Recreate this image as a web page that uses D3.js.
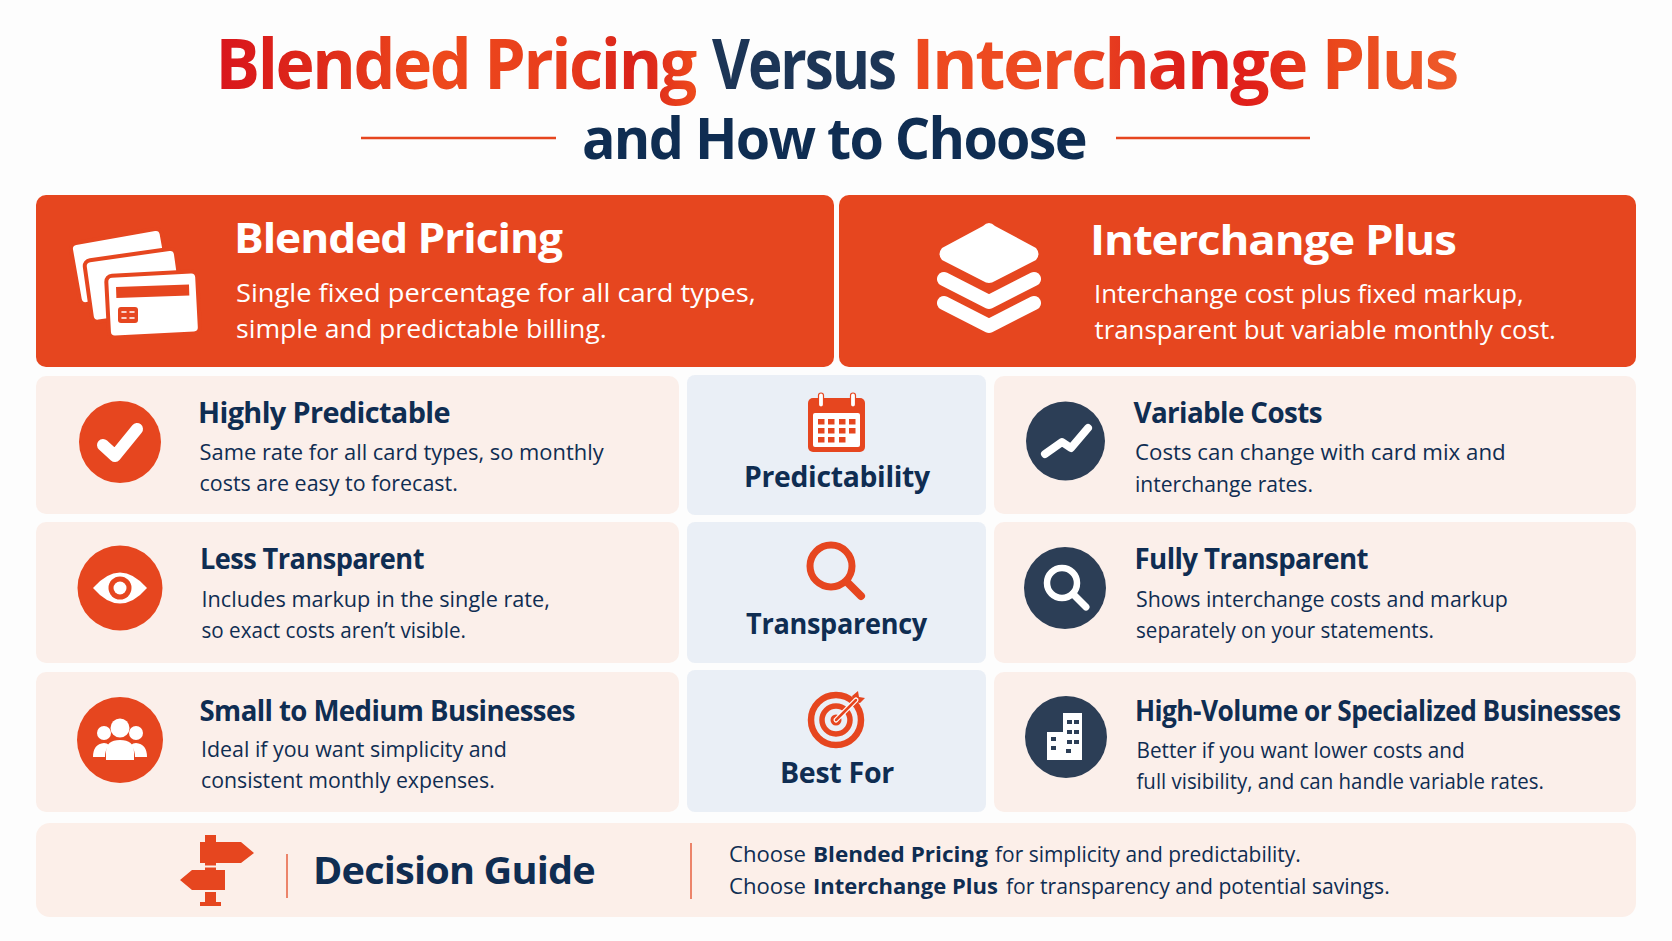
<!DOCTYPE html>
<html>
<head>
<meta charset="utf-8">
<script src="https://cdnjs.cloudflare.com/ajax/libs/d3/7.8.5/d3.min.js"></script>
<style>
html, body { margin: 0; padding: 0; background: #fdfdfd; }
svg { display: block; }
text { font-family: "Open Sans", "Noto Sans", sans-serif; }
</style>
</head>
<body>
<svg id="canvas" width="1672" height="941"></svg>
<script>
// text of the picture
var titleWords = ['Blended Pricing', 'Versus', 'Interchange Plus'],
  subtitle = 'and How to Choose',
  panelTitles = ['Blended Pricing', 'Interchange Plus'],
  panelLines = [
    ['Single fixed percentage for all card types,', 'simple and predictable billing.'],
    ['Interchange cost plus fixed markup,', 'transparent but variable monthly cost.']
  ],
  criteria = ['Predictability', 'Transparency', 'Best For'],
  leftHeads = ['Highly Predictable', 'Less Transparent', 'Small to Medium Businesses'],
  leftLines = [
    ['Same rate for all card types, so monthly', 'costs are easy to forecast.'],
    ['Includes markup in the single rate,', 'so exact costs aren\u2019t visible.'],
    ['Ideal if you want simplicity and', 'consistent monthly expenses.']
  ],
  rightHeads = ['Variable Costs', 'Fully Transparent', 'High-Volume or Specialized Businesses'],
  rightLines = [
    ['Costs can change with card mix and', 'interchange rates.'],
    ['Shows interchange costs and markup', 'separately on your statements.'],
    ['Better if you want lower costs and', 'full visibility, and can handle variable rates.']
  ],
  guideTitle = 'Decision Guide',
  guideLines = [
    ['Choose', 'Blended Pricing', 'for simplicity and predictability.'],
    ['Choose', 'Interchange Plus', 'for transparency and potential savings.']
  ];

var orange = '#e6461f', navy = '#0f2d52', slate = '#2c3e56',
  blush = '#fbefea', ice = '#eaeff6';

var svg = d3.select('#canvas');
var defs = svg.append('defs');

function gradient(id, x1, x2, stops) {
  var g = defs.append('linearGradient').attr('id', id)
    .attr('gradientUnits', 'userSpaceOnUse')
    .attr('x1', x1).attr('x2', x2).attr('y1', 0).attr('y2', 0);
  stops.forEach(function(s) {
    g.append('stop').attr('offset', s[0]).attr('stop-color', s[1]);
  });
}
// gradients live in the text's own scaled space, so they run over the natural width
gradient('gLeft', 0, 1, [[0, '#d9151c'], [0.22, '#de2a1a'], [0.45, '#ee4a1c'], [0.72, '#e83d1c'], [0.88, '#d9211b'], [1, '#ee4a1c']]);
gradient('gRight', 0, 1, [[0, '#ee4a1f'], [0.3, '#ec4a22'], [0.5, '#dc1f1a'], [0.62, '#e01f1a'], [0.78, '#ea481c'], [1, '#ee5a2a']]);

// every string is squeezed between the ink ends
function put(parent, str, x, xEnd, y, size, weight, fill, spacing) {
  var t = parent.append('text')
    .attr('font-size', size)
    .attr('font-weight', weight)
    .attr('letter-spacing', spacing || 0)
    .attr('fill', fill)
    .text(str);
  var natural = t.node().getComputedTextLength();
  t.attr('transform', 'translate(' + x + ',' + y + ')scale(' + (xEnd - x) / natural + ',1)');
  return t;
}

function box(x, y, x2, y2, fill, r) {
  svg.append('rect').attr('x', x).attr('y', y)
    .attr('width', x2 - x).attr('height', y2 - y)
    .attr('rx', r).attr('fill', fill);
}

// title
function titleWord(str, x, xEnd, grad) {
  var t = put(svg, str, x, xEnd, 89, 70, 700, '#1c3556', -2.5);
  if (grad) {
    var natural = t.node().getComputedTextLength();
    d3.select('#' + grad).attr('x2', natural);
    t.attr('fill', 'url(#' + grad + ')');
  }
}
titleWord(titleWords[0], 215.5, 695, 'gLeft');
titleWord(titleWords[1], 712, 895);
titleWord(titleWords[2], 911.5, 1457, 'gRight');
put(svg, subtitle, 582, 1086, 159, 58, 700, navy, -1.8);
svg.selectAll('line.rule').data([[361, 556], [1116, 1310]]).enter().append('line')
  .attr('class', 'rule')
  .attr('x1', function(d) { return d[0]; }).attr('x2', function(d) { return d[1]; })
  .attr('y1', 138).attr('y2', 138)
  .attr('stroke', orange).attr('stroke-width', 2.5);

// boxes
box(36, 195, 834, 367, orange, 10);
box(839, 195, 1636, 367, orange, 10);
var rowsOuter = [[376, 514], [522, 663], [672, 812]],
  rowsMiddle = [[375, 515], [522, 663], [670, 812]];
rowsOuter.forEach(function(r) {
  box(36, r[0], 679, r[1], blush, 10);
  box(994, r[0], 1636, r[1], blush, 10);
});
rowsMiddle.forEach(function(r) { box(687, r[0], 986, r[1], ice, 8); });
box(36, 823, 1636, 917, '#fcefe9', 14);

// panel text
put(svg, panelTitles[0], 234, 562, 253, 42, 700, '#fff', -1);
put(svg, panelLines[0][0], 236, 756, 302, 25, 400, '#fff');
put(svg, panelLines[0][1], 236, 607, 338, 25, 400, '#fff');
put(svg, panelTitles[1], 1090, 1456, 255, 42, 700, '#fff', -1);
put(svg, panelLines[1][0], 1094, 1524, 303, 25, 400, '#fff');
put(svg, panelLines[1][1], 1094.5, 1556, 339, 25, 400, '#fff');

// row text
var leftGeom = [
  {x: 198, head: [450, 423], a: [604, 460], b: [458, 491]},
  {x: 200, head: [424, 569], a: [550, 607], b: [466, 638]},
  {x: 199.5, head: [575, 721], a: [507, 757], b: [495, 788]}
];
var rightGeom = [
  {x: 1133.5, head: [1322, 423], a: [1506, 460], b: [1313, 492]},
  {x: 1134.5, head: [1368, 569], a: [1508, 607], b: [1434, 638]},
  {x: 1135, head: [1621, 721], a: [1465, 758], b: [1544, 789]}
];
function rowText(heads, lines, geom) {
  heads.forEach(function(h, i) {
    var g = geom[i];
    put(svg, h, g.x, g.head[0], g.head[1], 28, 700, navy, -0.6);
    put(svg, lines[i][0], g.x + 1.5, g.a[0], g.a[1], 22.5, 400, navy);
    put(svg, lines[i][1], g.x + 1.5, g.b[0], g.b[1], 22.5, 400, navy);
  });
}
rowText(leftHeads, leftLines, leftGeom);
rowText(rightHeads, rightLines, rightGeom);

// middle column labels
var midGeom = [[744, 930, 487], [746, 927, 634], [780, 894, 783]];
criteria.forEach(function(c, i) {
  put(svg, c, midGeom[i][0], midGeom[i][1], midGeom[i][2], 28, 700, navy, -0.3);
});

// decision guide
put(svg, guideTitle, 313, 595, 884, 38, 700, navy, -0.8);
svg.selectAll('line.sep').data([[287, 854, 898], [691, 843, 899]]).enter().append('line')
  .attr('class', 'sep')
  .attr('x1', function(d) { return d[0]; }).attr('x2', function(d) { return d[0]; })
  .attr('y1', function(d) { return d[1]; }).attr('y2', function(d) { return d[2]; })
  .attr('stroke', '#e8694a').attr('stroke-width', 1.6);
var guideGeom = [
  {y: 862, bold: [813, 988], rest: [995, 1301]},
  {y: 894, bold: [813, 998], rest: [1006, 1390]}
];
guideLines.forEach(function(l, i) {
  var g = guideGeom[i];
  put(svg, l[0], 729, 806, g.y, 21.5, 400, navy);
  put(svg, l[1], g.bold[0], g.bold[1], g.y, 21.5, 700, navy);
  put(svg, l[2], g.rest[0], g.rest[1], g.y, 21.5, 400, navy);
});

// icons
function stroke(parent, d, color, w) {
  return parent.append('path').attr('d', d).attr('fill', 'none')
    .attr('stroke', color).attr('stroke-width', w)
    .attr('stroke-linecap', 'round').attr('stroke-linejoin', 'round');
}
function disc(cx, cy, r, fill) {
  return svg.append('circle').attr('cx', cx).attr('cy', cy).attr('r', r).attr('fill', fill);
}
function shape(d, fill) {
  return svg.append('path').attr('d', d).attr('fill', fill);
}

// cards
[[70, 244, 92, 62, -10], [84, 261, 92, 62, -8], [106, 276, 91, 62, -3]].forEach(function(c) {
  svg.append('rect').attr('x', c[0]).attr('y', c[1]).attr('width', c[2]).attr('height', c[3])
    .attr('rx', 6).attr('fill', '#fff').attr('stroke', orange).attr('stroke-width', 4)
    .attr('transform', 'rotate(' + c[4] + ' ' + c[0] + ' ' + c[1] + ')');
});
svg.append('rect').attr('x', 116).attr('y', 287).attr('width', 73).attr('height', 11)
  .attr('fill', orange).attr('transform', 'rotate(-2 116 287)');
svg.append('rect').attr('x', 118).attr('y', 307).attr('width', 20).attr('height', 16)
  .attr('rx', 3).attr('fill', orange);
stroke(svg, 'M122 312H126M130 312H134M122 318H126M130 318H134', '#fff', 1.6);

// layers
shape('M989 223Q992 223 995 226L1036 248Q1041 254 1036 260L995 281Q989 285 983 281L942 260Q937 254 942 248L983 226Q986 223 989 223Z', '#fff');
stroke(svg, 'M944 279L989 302L1034 279', '#fff', 14);
stroke(svg, 'M944 303L989 326L1034 303', '#fff', 14);

// left discs
disc(120, 442, 41, orange);
disc(120, 588, 42.5, orange);
disc(120, 740, 43, orange);
stroke(svg, 'M103 445L115 456L137 429', '#fff', 12);
shape('M93 588Q120 557 147 588Q120 619 93 588Z', '#fff');
disc(120, 588, 11.5, orange);
disc(120, 588, 6.5, '#fff');
disc(104, 733, 7, '#fff');
disc(136, 733, 7, '#fff');
shape('M93 757Q93 744 104 743Q107 743 109 745Q105 750 105 757Z', '#fff');
shape('M147 757Q147 744 136 743Q133 743 131 745Q135 750 135 757Z', '#fff');
disc(120, 728, 9.5, '#fff');
shape('M106 760V752Q106 740 120 740Q134 740 134 752V760Z', '#fff');

// right discs
disc(1065.5, 441, 39.5, slate);
disc(1065, 588, 41, slate);
disc(1066, 737, 41, slate);
stroke(svg, 'M1045 454L1062 442L1071 448L1088 428', '#fff', 8);
svg.append('circle').attr('cx', 1062).attr('cy', 583).attr('r', 15)
  .attr('fill', 'none').attr('stroke', '#fff').attr('stroke-width', 6.5);
stroke(svg, 'M1073 594L1086 607', '#fff', 7);
shape('M1063 713H1082V760H1047V732H1063Z', '#fff');
[[1067, 720], [1074, 720], [1067, 730], [1074, 730], [1067, 740], [1074, 740], [1051, 737], [1051, 746], [1066, 749]]
  .forEach(function(w) {
    svg.append('rect').attr('x', w[0]).attr('y', w[1]).attr('width', 5).attr('height', 4).attr('fill', slate);
  });

// calendar
svg.append('rect').attr('x', 808).attr('y', 398).attr('width', 57).attr('height', 54).attr('rx', 5).attr('fill', orange);
svg.append('rect').attr('x', 813).attr('y', 413).attr('width', 47).attr('height', 34).attr('rx', 2).attr('fill', '#fff');
[821, 853].forEach(function(x) {
  svg.append('rect').attr('x', x - 2.5).attr('y', 393).attr('width', 5).attr('height', 14)
    .attr('rx', 2.5).attr('fill', '#fff').attr('stroke', orange).attr('stroke-width', 1.2);
});
[[818, 419], [828, 419], [839, 419], [849, 419], [818, 428], [828, 428], [839, 428], [849, 428], [818, 437], [828, 437], [839, 437]]
  .forEach(function(c) {
    svg.append('rect').attr('x', c[0]).attr('y', c[1]).attr('width', 6.5).attr('height', 5.5).attr('fill', orange);
  });

// magnifier
svg.append('circle').attr('cx', 831).attr('cy', 566).attr('r', 21)
  .attr('fill', 'none').attr('stroke', orange).attr('stroke-width', 7);
stroke(svg, 'M847 582L861 596', orange, 8);

// target
svg.append('circle').attr('cx', 836).attr('cy', 720).attr('r', 25)
  .attr('fill', 'none').attr('stroke', orange).attr('stroke-width', 6.5);
svg.append('circle').attr('cx', 836).attr('cy', 720).attr('r', 14)
  .attr('fill', 'none').attr('stroke', orange).attr('stroke-width', 5.5);
disc(836, 720, 5.5, orange);
shape('M852 696L858 691L859 697L865 698L860 703L854 702Z', orange);
stroke(svg, 'M836 720L856 700', '#fff', 5);
stroke(svg, 'M836 720L856 700', orange, 2.5);

// signpost
shape('M205 835H216V842H241L254 853L241 863H216V870H225V890H216V902H221V906H200V902H205V890H192L180 880L192 870H205V863H200V842H205Z', orange);
stroke(svg, 'M201 866.5H224', '#fcefe9', 2.2);
stroke(svg, 'M204 891H217', '#fcefe9', 2);
</script>
</body>
</html>
